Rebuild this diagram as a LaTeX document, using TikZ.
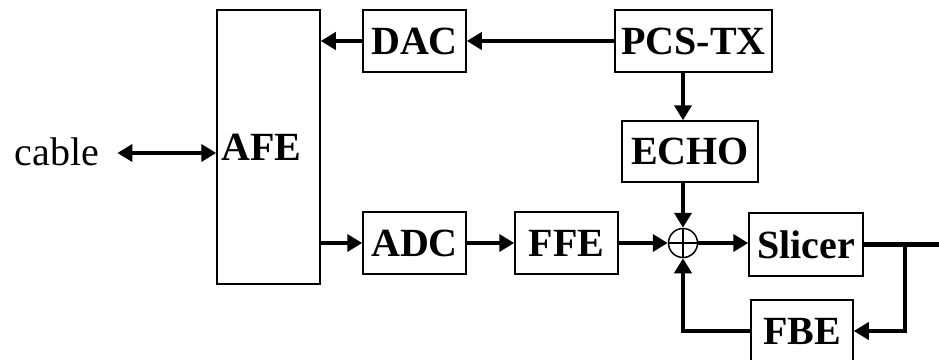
\documentclass[tikz,border=0pt]{standalone}
\usepackage{fontspec}
\setmainfont{Liberation Serif}
\usetikzlibrary{arrows.meta}
\begin{document}
\begin{tikzpicture}[x=1pt,y=-1pt,
  blk/.style={draw, line width=1.5pt, rectangle, inner sep=1pt,
    font=\fontsize{40}{42}\selectfont\bfseries},
  arr/.style={line width=4.5pt, -{Triangle[length=15pt,width=17pt]}},
  dblarr/.style={line width=4.5pt, {Triangle[length=15pt,width=17pt]}-{Triangle[length=15pt,width=17pt]}},
  wire/.style={line width=4.5pt}]
\useasboundingbox (0,0) rectangle (939,359);
\node[blk, minimum width=103pt, minimum height=274pt] (afe) at (268.5,147) {\raisebox{-4pt}{\hspace*{-14pt}AFE}};
\node[blk, minimum width=103pt, minimum height=62pt] (dac) at (414.5,41) {DAC};
\node[blk, minimum width=157pt, minimum height=62pt] (pcs) at (693.5,41) {PCS-TX};
\node[blk, minimum width=136pt, minimum height=61pt] (echo) at (690,151.5) {ECHO};
\node[blk, minimum width=103pt, minimum height=62pt] (adc) at (414.5,243) {ADC};
\node[blk, minimum width=103pt, minimum height=62pt] (ffe) at (566.5,243) {FFE};
\node[blk, minimum width=114pt, minimum height=63pt] (slicer) at (806,244.5) {Slicer};
\node[blk, minimum width=102pt, minimum height=62pt] (fbe) at (802,331) {FBE};
\node[draw, line width=1.5pt, circle, minimum size=29pt, inner sep=0pt] (sum) at (683,243) {};
\draw[line width=1.5pt] (sum.north) -- (sum.south) (sum.west) -- (sum.east);
\node[font=\fontsize{40}{42}\selectfont, inner sep=0pt] (cable) at (57,152) {cable};
\coordinate (out) at (939,244.5);
\coordinate (br) at (905,244.5);
\draw[arr] (pcs.west) -- (dac.east);
\draw[arr] (dac.west) -- (dac.west -| afe.east);
\draw[dblarr] ([xshift=18pt]cable.east |- 0,153) -- (afe.west |- 0,153);
\draw[arr] (adc.west -| afe.east) -- (adc.west);
\draw[arr] (adc.east) -- (ffe.west);
\draw[arr] (ffe.east) -- (sum.west);
\draw[arr] (sum.east) -- (slicer.west |- sum.east);
\draw[arr] (sum |- pcs.south) -- (sum |- echo.north);
\draw[arr] (sum |- echo.south) -- (sum.north);
\draw[wire] (slicer.east |- br) -- (out);
\draw[arr] (br) |- (fbe.east);
\draw[arr] (fbe.west) -| (sum.south);
\end{tikzpicture}
\end{document}
